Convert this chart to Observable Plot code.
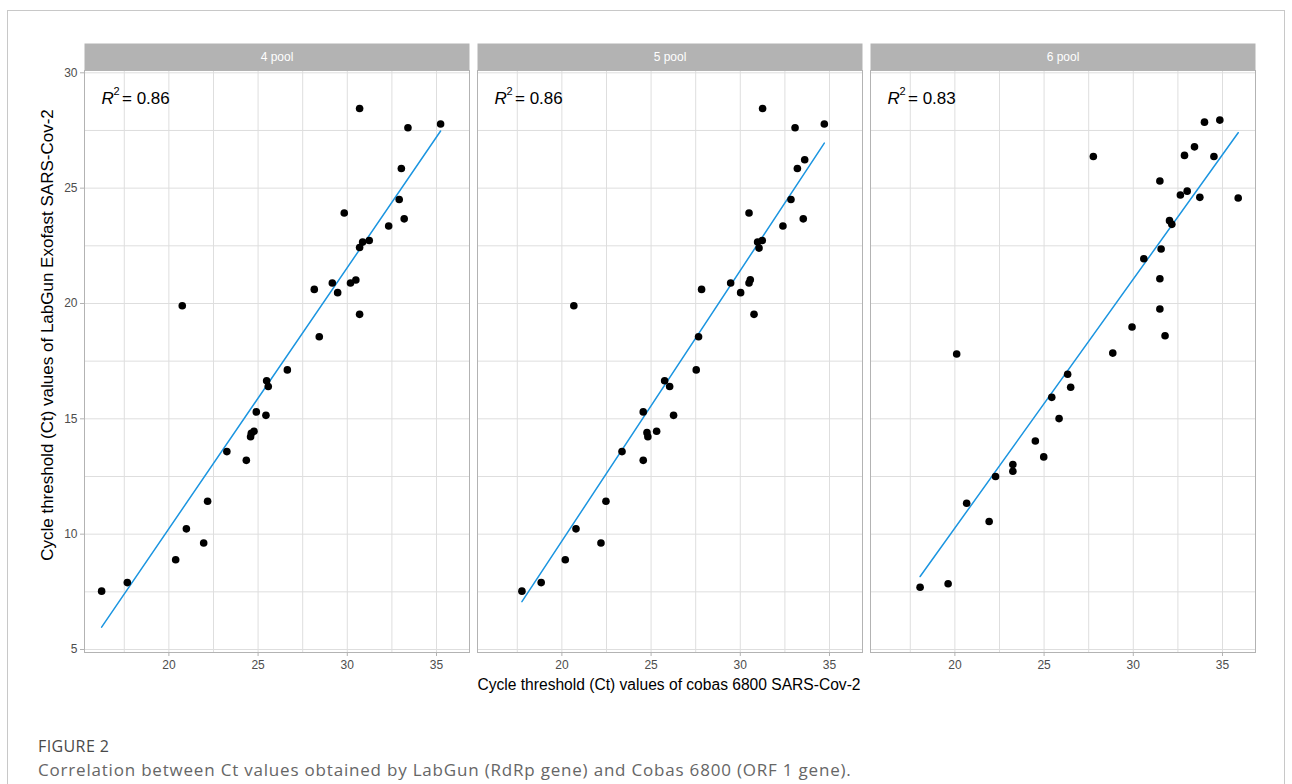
<!DOCTYPE html>
<html><head><meta charset="utf-8">
<script src="https://cdn.jsdelivr.net/npm/d3@7"></script>
<script src="https://cdn.jsdelivr.net/npm/@observablehq/plot@0.6"></script>
<style>
body{margin:0;background:#fff;overflow:hidden;width:1292px;height:784px;position:relative;font-family:"Liberation Sans",Arial,sans-serif}
#box{position:absolute;left:7px;top:10px;width:1278px;height:800px;border:1px solid #c8c8c8;box-sizing:border-box;z-index:2;pointer-events:none}
#chart{position:absolute;left:0;top:0;z-index:1}
#ytitle{position:absolute;left:48px;top:335px;transform:translate(-50%,-50%) rotate(-90deg);white-space:nowrap;font-size:17px;color:#000}
#xtitle{position:absolute;left:669px;top:685px;transform:translate(-50%,-50%);white-space:nowrap;font-size:15.6px;color:#000}
#fig{position:absolute;left:38px;top:736px;font-family:"Open Sans",sans-serif;font-size:16px;letter-spacing:0.4px;color:#4a4a4a;line-height:20px}
#cap{position:absolute;left:38px;top:759px;font-family:"Open Sans",sans-serif;font-size:17px;letter-spacing:0.8px;color:#666;line-height:21px;white-space:nowrap}
</style></head>
<body>
<div id="box"></div>
<div id="chart"></div>
<div id="ytitle">Cycle threshold (Ct) values of LabGun Exofast SARS-Cov-2</div>
<div id="xtitle">Cycle threshold (Ct) values of cobas 6800 SARS-Cov-2</div>
<div id="fig">FIGURE 2</div>
<div id="cap">Correlation between Ct values obtained by LabGun (RdRp gene) and Cobas 6800 (ORF 1 gene).</div>
<script>
const pools = ["4 pool", "5 pool", "6 pool"];
const r2Labels = ["= 0.86", "= 0.86", "= 0.83"];

const cobas4 = [30.69,33.40,35.23,33.03,32.91,29.83,33.19,32.32,31.23,30.86,30.69,29.16,28.15,29.46,30.18,30.48,20.75,30.69,28.43,26.64,25.48,25.57,24.90,25.44,24.77,24.62,24.58,23.25,24.34,22.17,20.98,21.95,20.38,17.67,16.23];
const labgun4 = [28.45,27.62,27.78,25.85,24.51,23.92,23.67,23.36,22.73,22.66,22.43,20.89,20.61,20.47,20.89,21.02,19.90,19.53,18.56,17.12,16.65,16.40,15.30,15.15,14.46,14.37,14.22,13.58,13.20,11.43,10.23,9.62,8.89,7.90,7.53];

const cobas5 = [31.25,33.07,34.71,33.61,33.20,32.84,30.49,33.53,32.39,31.23,30.97,31.05,29.46,27.83,30.02,30.49,30.56,20.67,30.77,27.66,27.53,25.76,26.04,24.56,26.26,25.31,24.77,24.82,23.37,24.56,22.47,20.79,22.19,20.19,18.84,17.76];
const labgun5 = [28.45,27.62,27.78,26.23,25.85,24.51,23.92,23.67,23.36,22.73,22.66,22.40,20.89,20.61,20.47,20.89,21.03,19.90,19.53,18.56,17.12,16.65,16.40,15.30,15.15,14.46,14.40,14.22,13.58,13.20,11.43,10.23,9.62,8.89,7.90,7.53];

const cobas6 = [33.99,34.85,33.43,32.87,34.52,27.76,31.49,32.64,33.02,33.73,35.88,32.03,32.16,31.56,30.59,31.49,31.49,29.93,31.78,28.85,20.10,26.32,26.49,25.43,25.84,24.51,24.98,23.25,23.25,22.28,20.66,21.92,19.62,18.05];
const labgun6 = [27.86,27.95,26.79,26.42,26.37,26.37,25.31,24.70,24.87,24.60,24.57,23.59,23.43,22.36,21.94,21.07,19.76,18.98,18.60,17.85,17.81,16.93,16.37,15.93,15.01,14.04,13.35,13.02,12.73,12.50,11.34,10.55,7.85,7.70];

const xTicks = [20, 25, 30, 35];
const xGrid = [17.5, 20, 22.5, 25, 27.5, 30, 32.5, 35];
const yTicks = [5, 10, 15, 20, 25, 30];
const yGrid = [5, 7.5, 10, 12.5, 15, 17.5, 20, 22.5, 25, 27.5, 30];

const series = [[cobas4, labgun4], [cobas5, labgun5], [cobas6, labgun6]];
const data = series.flatMap(([xs, ys], i) => xs.map((x, j) => ({pool: pools[i], x, y: ys[j]})));
const strips = pools.map((p, i) => ({pool: p, r2: r2Labels[i]}));

const height = 700, marginTop = 70, marginBottom = 48;
const plotH = height - marginTop - marginBottom;
const font = "Liberation Sans, Arial, sans-serif";

const chart = Plot.plot({
  width: 1292, height, marginTop, marginBottom, marginLeft: 84, marginRight: 36,
  style: {fontFamily: font, background: "transparent"},
  fx: {domain: pools, paddingInner: 0.0203, paddingOuter: 0, axis: null},
  x: {domain: [15.27, 36.85], axis: null},
  y: {domain: [4.87, 30.1], axis: null},
  marks: [
    Plot.gridX({ticks: xGrid, stroke: "#dedede", strokeOpacity: 1, strokeWidth: 1}),
    Plot.gridY({ticks: yGrid, stroke: "#dedede", strokeOpacity: 1, strokeWidth: 1}),
    Plot.frame({fill: "#b3b3b3", insetTop: -27, insetBottom: plotH}),
    Plot.frame({stroke: "#b3b3b3", strokeWidth: 1}),
    Plot.text(strips, {fx: "pool", text: "pool", frameAnchor: "top", dy: -13.5, fill: "white", fontSize: 12, lineAnchor: "middle"}),
    Plot.text(strips, {fx: "pool", text: () => "R", frameAnchor: "top-left", dx: 17, dy: 28, textAnchor: "start", lineAnchor: "middle", fontSize: 17, fontStyle: "italic", fill: "black"}),
    Plot.text(strips, {fx: "pool", text: () => "2", frameAnchor: "top-left", dx: 29, dy: 21, textAnchor: "start", lineAnchor: "middle", fontSize: 11, fill: "black"}),
    Plot.text(strips, {fx: "pool", text: "r2", frameAnchor: "top-left", dx: 37.5, dy: 28, textAnchor: "start", lineAnchor: "middle", fontSize: 17, fill: "black"}),
    Plot.axisX({ticks: xTicks, tickSize: 4, tickPadding: 4, stroke: "#b3b3b3", fill: "#4d4d4d", fontSize: 12, label: null}),
    Plot.axisY({ticks: yTicks, tickSize: 4, tickPadding: 3, stroke: "#b3b3b3", fill: "#4d4d4d", fontSize: 12, label: null}),
    Plot.linearRegressionY(data, {fx: "pool", x: "x", y: "y", stroke: "#1b95e0", strokeWidth: 1.5, ci: 0}),
    Plot.dot(data, {fx: "pool", x: "x", y: "y", r: 3.8, fill: "black", stroke: "none"})
  ]
});
document.getElementById("chart").appendChild(chart);
</script>
</body></html>
